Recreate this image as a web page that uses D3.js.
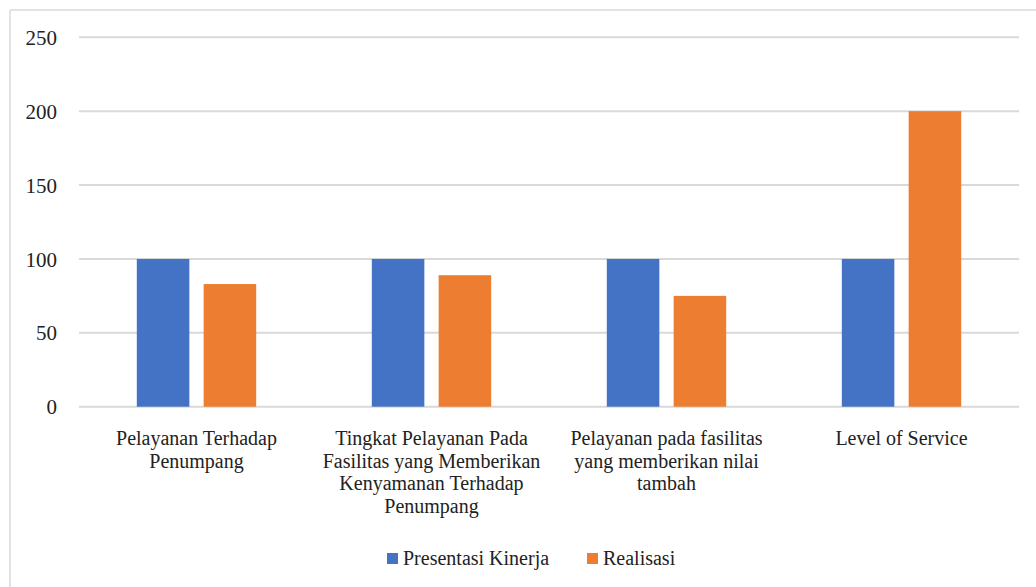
<!DOCTYPE html>
<html>
<head>
<meta charset="utf-8">
<script src="https://cdn.jsdelivr.net/npm/d3@7/dist/d3.min.js"></script>
<style>
  html, body { margin: 0; padding: 0; background: #fff; }
  svg { display: block; }
  text { font-family: "Liberation Serif", "Times New Roman", serif; fill: #222; }
</style>
</head>
<body>
<svg id="chart" width="1036" height="587"></svg>
<script>
// Chart data
const categories = [
  ["Pelayanan Terhadap", "Penumpang"],
  ["Tingkat Pelayanan Pada", "Fasilitas yang Memberikan", "Kenyamanan Terhadap", "Penumpang"],
  ["Pelayanan pada fasilitas", "yang memberikan nilai", "tambah"],
  ["Level of Service"]
];
const seriesNames = ["Presentasi Kinerja", "Realisasi"];
const presentasiKinerja = [100, 100, 100, 100];
const realisasi = [83, 89, 75, 200];
const yTicks = [0, 50, 100, 150, 200, 250];
const colors = ["#4472C4", "#ED7D31"];

const svg = d3.select("#chart");
const W = 1036, H = 587;
const plot = { left: 79, right: 1019, top: 37.3, bottom: 406.7 };

// outer frame (left and top edges visible)
svg.append("line").attr("x1", 10).attr("x2", W).attr("y1", 10).attr("y2", 10)
  .attr("stroke", "#e2e2e2").attr("stroke-width", 2);
svg.append("line").attr("x1", 10).attr("x2", 10).attr("y1", 10).attr("y2", H)
  .attr("stroke", "#e2e2e2").attr("stroke-width", 2);

const y = d3.scaleLinear().domain([0, 250]).range([plot.bottom, plot.top]);
const catIdx = d3.range(categories.length);
const x0 = d3.scaleBand().domain(catIdx).range([plot.left, plot.right]).paddingInner(0.492).paddingOuter(0.246);
const x1 = d3.scaleBand().domain(d3.range(seriesNames.length)).range([0, x0.bandwidth()]).paddingInner(0.214);

// gridlines
svg.append("g").selectAll("line").data(yTicks).join("line")
  .attr("x1", plot.left).attr("x2", plot.right)
  .attr("y1", d => y(d)).attr("y2", d => y(d))
  .attr("stroke", "#d9d9d9").attr("stroke-width", 2);

// y axis labels
const yAxis = d3.axisLeft(y).tickValues(yTicks).tickSize(0).tickPadding(0);
const gy = svg.append("g").attr("transform", "translate(57,0)").call(yAxis);
gy.select(".domain").remove();
gy.selectAll("text").style("font-family", "'Liberation Serif', serif")
  .style("font-size", "21px").attr("fill", "#222").attr("dy", "0.34em");

// bars
const values = [presentasiKinerja, realisasi];
const groups = svg.append("g").selectAll("g").data(catIdx).join("g")
  .attr("transform", i => `translate(${x0(i)},0)`);
groups.selectAll("rect").data(i => values.map((s, k) => ({ k, v: s[i] }))).join("rect")
  .attr("x", d => x1(d.k))
  .attr("width", x1.bandwidth())
  .attr("y", d => y(d.v))
  .attr("height", d => y(0) - y(d.v))
  .attr("fill", d => colors[d.k]);

// category labels
const lab = svg.append("g").selectAll("text").data(catIdx).join("text")
  .attr("text-anchor", "middle")
  .attr("x", i => x0(i) + x0.bandwidth() / 2)
  .attr("y", 445)
  .style("font-size", "20px");
lab.selectAll("tspan").data(i => categories[i]).join("tspan")
  .attr("x", function () { return d3.select(this.parentNode).attr("x"); })
  .attr("dy", (d, j) => j === 0 ? 0 : 22.5)
  .text(d => d);

// legend
const legendItems = [
  { name: seriesNames[0], color: colors[0], x: 387 },
  { name: seriesNames[1], color: colors[1], x: 587 }
];
const lg = svg.append("g").selectAll("g").data(legendItems).join("g")
  .attr("transform", d => `translate(${d.x},553)`);
lg.append("rect").attr("width", 11).attr("height", 11).attr("fill", d => d.color);
lg.append("text").attr("x", 16).attr("y", 12).style("font-size", "20px").text(d => d.name);
</script>
</body>
</html>
